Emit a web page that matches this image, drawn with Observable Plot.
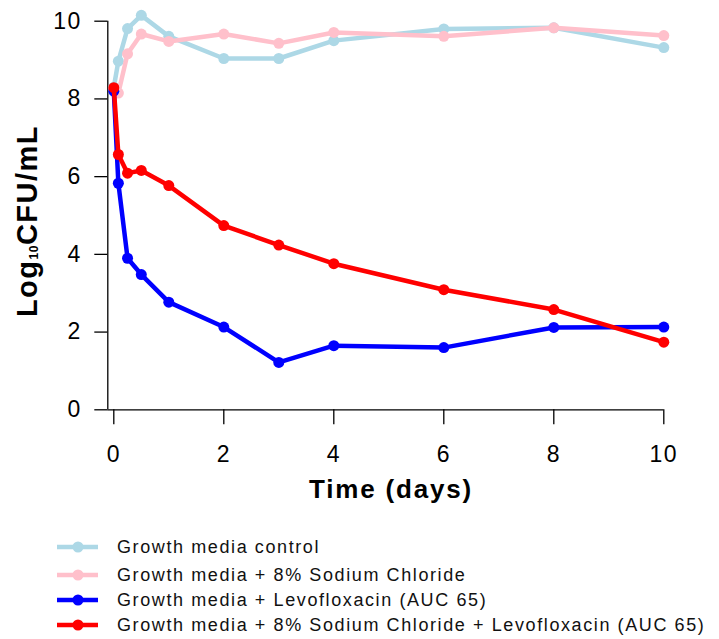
<!DOCTYPE html>
<html>
<head>
<meta charset="utf-8">
<script src="https://cdn.jsdelivr.net/npm/d3@7"></script>
<script src="https://cdn.jsdelivr.net/npm/@observablehq/plot@0.6"></script>
<style>
  body { margin: 0; background: #fff; font-family: "Liberation Sans", Arial, sans-serif; }
  #wrap { position: relative; width: 719px; height: 639px; overflow: hidden; }
  #chart svg { display: block; }
  #legend { position: absolute; left: 0; top: 0; width: 719px; height: 639px; pointer-events: none; }
  .row { position: absolute; left: 56px; height: 24px; display: flex; align-items: center; white-space: nowrap; }
  .row svg { display: block; margin-right: 18px; }
  .row span { font-size: 18px; letter-spacing: 1.6px; color: #111; }
</style>
</head>
<body>
<div id="wrap">
  <div id="chart"></div>
  <div id="legend"></div>
</div>
<script>
// ---- data ----
const times = [0, 0.083, 0.25, 0.5, 1, 2, 3, 4, 6, 8, 10];
const seriesNames = [
  "Growth media control",
  "Growth media + 8% Sodium Chloride",
  "Growth media + Levofloxacin (AUC 65)",
  "Growth media + 8% Sodium Chloride + Levofloxacin (AUC 65)"
];
const seriesColors = ["#ADD8E6", "#FFC0CB", "#0000FF", "#FF0000"];
const control = [8.3, 8.97, 9.81, 10.15, 9.61, 9.04, 9.04, 9.5, 9.8, 9.83, 9.32];
const nacl    = [8.25, 8.15, 9.16, 9.67, 9.48, 9.67, 9.43, 9.71, 9.61, 9.83, 9.63];
const levo    = [8.2, 5.83, 3.9, 3.48, 2.77, 2.13, 1.22, 1.65, 1.6, 2.12, 2.13];
const combo   = [8.29, 6.57, 6.09, 6.16, 5.77, 4.74, 4.24, 3.76, 3.09, 2.58, 1.74];
const xTicks = [0, 2, 4, 6, 8, 10];
const yTicks = [0, 2, 4, 6, 8, 10];
const xLabel = "Time (days)";
const yLabelParts = ["Log", "10", "CFU/mL"];

// ---- tidy table ----
const allSeries = [control, nacl, levo, combo];
const rows = [];
allSeries.forEach((vals, i) => vals.forEach((v, j) => rows.push({series: seriesNames[i], t: times[j], v})));

const W = 719, H = 510;
const marks = [
  Plot.ruleX([0], {dx: -6, stroke: "black", strokeWidth: 1.3}),
  Plot.ruleY([0], {insetLeft: -6, stroke: "black", strokeWidth: 1.3}),
  Plot.axisX({ticks: xTicks, tickSize: 15, tickPadding: 21, fontSize: 23, stroke: "black", strokeWidth: 1.3, fill: "black", label: null}),
  Plot.axisY({ticks: yTicks, tickSize: 13, tickPadding: 13, dx: -6, fontSize: 23, stroke: "black", strokeWidth: 1.3, fill: "black", label: null})
];
seriesNames.forEach((name, i) => {
  const d = rows.filter(r => r.series === name);
  marks.push(Plot.line(d, {x: "t", y: "v", stroke: seriesColors[i], strokeWidth: 4.5}));
  marks.push(Plot.dot(d, {x: "t", y: "v", fill: seriesColors[i], r: 5.5}));
});

const chart = Plot.plot({
  width: W,
  height: H,
  marginLeft: 113.3,
  marginRight: 55.7,
  marginTop: 20.7,
  marginBottom: H - 409.3,
  x: {domain: [0, 10], ticks: xTicks},
  y: {domain: [0, 10], ticks: yTicks},
  style: {fontFamily: "Liberation Sans, Arial, sans-serif", letterSpacing: "1.5px", color: "black", background: "white", overflow: "visible"},
  marks
});
document.getElementById("chart").appendChild(chart);

// axis titles
const svg = d3.select(chart);
const yl = svg.append("text")
  .attr("transform", "translate(36.5,221) rotate(-90)")
  .attr("text-anchor", "middle")
  .attr("font-weight", "bold")
  .attr("font-size", 29)
  .attr("letter-spacing", "1.5px")
  .attr("fill", "black");
yl.append("tspan").text(yLabelParts[0]);
yl.append("tspan").attr("font-size", 12).attr("dy", 1).attr("letter-spacing", "0.5px").text(yLabelParts[1]);
yl.append("tspan").attr("dy", -1).text(yLabelParts[2]);

svg.append("text")
  .attr("x", 391)
  .attr("y", 498)
  .attr("text-anchor", "middle")
  .attr("font-weight", "bold")
  .attr("font-size", 26)
  .attr("letter-spacing", "1.8px")
  .attr("fill", "black")
  .text(xLabel);

// legend (HTML below the plot)
const rowCenters = [547, 575, 600, 625];
const legend = d3.select("#legend");
seriesNames.forEach((name, i) => {
  const row = legend.append("div").attr("class", "row").style("top", (rowCenters[i] - 12) + "px");
  const sw = row.append("svg").attr("width", 43).attr("height", 24);
  sw.append("line").attr("x1", 1).attr("x2", 42).attr("y1", 12).attr("y2", 12)
    .attr("stroke", seriesColors[i]).attr("stroke-width", 4.5);
  sw.append("circle").attr("cx", 22).attr("cy", 12).attr("r", 5.5).attr("fill", seriesColors[i]);
  row.append("span").text(name);
});
</script>
</body>
</html>
